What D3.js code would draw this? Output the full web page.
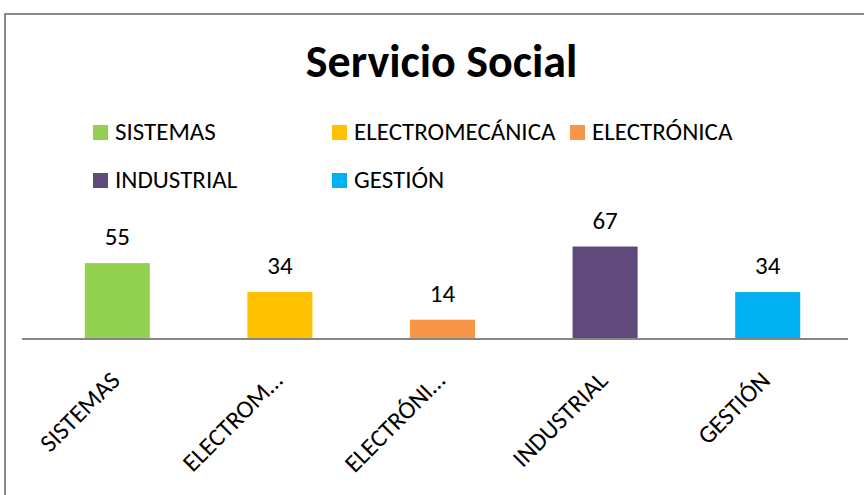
<!DOCTYPE html>
<html>
<head>
<meta charset="utf-8">
<script src="https://cdn.jsdelivr.net/npm/d3@7"></script>
<style>
  html, body { margin: 0; padding: 0; background: #fff; }
  svg { display: block; }
  text { font-family: Carlito, Calibri, Lato, "Open Sans", sans-serif; fill: #000; }
</style>
</head>
<body>
<svg id="chart" width="864" height="495"></svg>
<script>
// ---- data ----
const title = "Servicio Social";
const categories = ["SISTEMAS", "ELECTROMECÁNICA", "ELECTRÓNICA", "INDUSTRIAL", "GESTIÓN"];
const axisLabels = ["SISTEMAS", "ELECTROM…", "ELECTRÓNI…", "INDUSTRIAL", "GESTIÓN"];
const values = [55, 34, 14, 67, 34];
const colors = ["#92D050", "#FFC000", "#F79646", "#604A7B", "#00B0F0"];

// ---- layout ----
const svg = d3.select("#chart");
const W = 864, H = 495;
const baseY = 339;
const x = d3.scaleBand().domain(categories).range([36, 849]).paddingInner(0.6).paddingOuter(0.3);
const y = d3.scaleLinear().domain([0, 100]).range([baseY, baseY - 138]);

// outer frame
svg.append("rect")
  .attr("x", 5).attr("y", 14).attr("width", W + 10).attr("height", H + 10)
  .attr("fill", "none").attr("stroke", "#898989").attr("stroke-width", 2);

// title
svg.append("text")
  .attr("x", 441.5).attr("y", 77)
  .attr("text-anchor", "middle")
  .style("font-weight", "bold").style("font-size", "46px")
  .text(title);

// legend
const legendPos = [
  { x: 93, y: 125 }, { x: 332, y: 125 }, { x: 570, y: 125 },
  { x: 93, y: 173 }, { x: 332, y: 173 }
];
const lg = svg.append("g");
categories.forEach((c, i) => {
  const p = legendPos[i];
  lg.append("rect").attr("x", p.x).attr("y", p.y).attr("width", 15).attr("height", 15).attr("fill", colors[i]);
  lg.append("text").attr("x", p.x + 22).attr("y", p.y + 15)
    .style("font-size", "25px").text(c);
});

// bars
svg.append("g").selectAll("rect.bar")
  .data(values)
  .join("rect")
  .attr("class", "bar")
  .attr("x", (d, i) => x(categories[i]))
  .attr("width", x.bandwidth())
  .attr("y", d => y(d))
  .attr("height", d => baseY - y(d))
  .attr("fill", (d, i) => colors[i]);

// value labels
svg.append("g").selectAll("text")
  .data(values)
  .join("text")
  .attr("x", (d, i) => x(categories[i]) + x.bandwidth() / 2)
  .attr("y", d => y(d) - 18)
  .attr("text-anchor", "middle")
  .style("font-size", "25px")
  .text(d => d);

// axis baseline
svg.append("line")
  .attr("x1", 22).attr("x2", 848).attr("y1", baseY).attr("y2", baseY)
  .attr("stroke", "#868686").attr("stroke-width", 2);

// category labels (rotated)
svg.append("g").selectAll("text")
  .data(axisLabels)
  .join("text")
  .attr("transform", (d, i) => `translate(${x(categories[i]) + x.bandwidth() / 2 + 4},382) rotate(-45)`)
  .attr("text-anchor", "end")
  .style("font-size", "25px")
  .text(d => d);
</script>
</body>
</html>
